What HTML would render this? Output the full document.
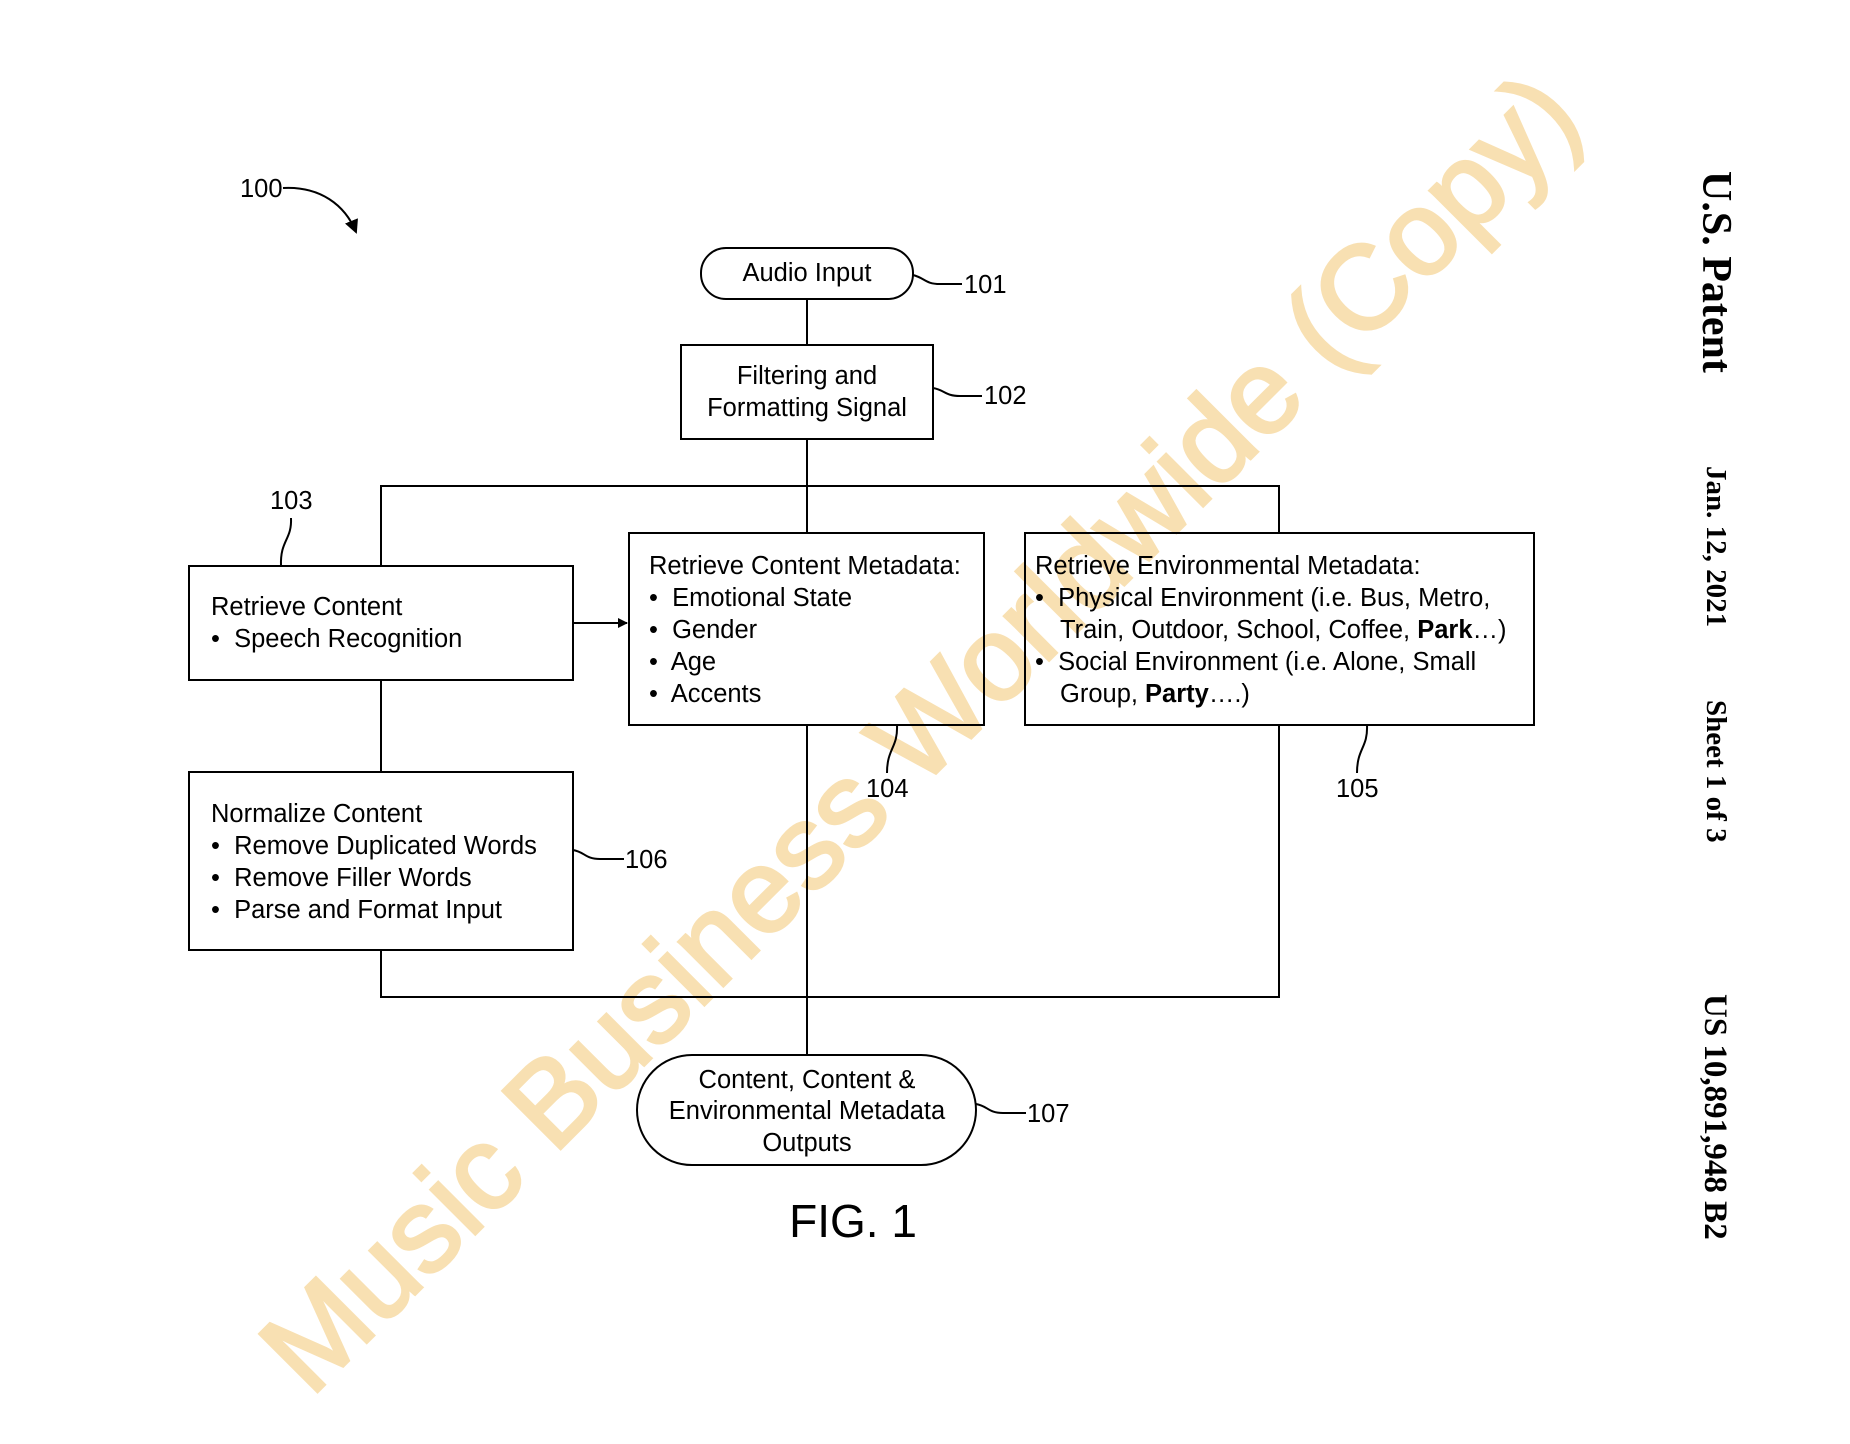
<!DOCTYPE html>
<html><head><meta charset="utf-8"><style>
html,body{margin:0;padding:0;background:#fff;width:1850px;height:1444px;overflow:hidden;}
svg{display:block;}
text{font-family:"Liberation Sans",sans-serif;fill:#000;}
.t{font-size:25.5px;}
.s{font-family:"Liberation Serif",serif;font-weight:bold;}
</style></head><body>
<svg width="1850" height="1444" viewBox="0 0 1850 1444" xmlns="http://www.w3.org/2000/svg" style="overflow:hidden">
<defs><marker id="ah" markerWidth="10" markerHeight="10" refX="9" refY="5" orient="auto" markerUnits="userSpaceOnUse"><path d="M0,0 L10,5 L0,10 z" fill="#000"/></marker>
<marker id="ah2" markerWidth="14" markerHeight="14" refX="12" refY="7" orient="auto" markerUnits="userSpaceOnUse"><path d="M0,0 L14,7 L0,14 z" fill="#000"/></marker></defs>

<text x="922" y="772" transform="rotate(-45 922 735)" text-anchor="middle" style="font-size:119px;fill:#f7d9a0;stroke:#f7d9a0;stroke-width:3;opacity:0.8">Music Business Worldwide (Copy)</text>

<g fill="none" stroke="#000" stroke-width="2">
<path d="M283,188 C320,186 345,205 356,232" marker-end="url(#ah2)"/>
<rect x="701" y="248" width="212" height="51" rx="25"/>
<path d="M913,275 C925,278 925,284 940,284 L962,284"/>
<line x1="807" y1="299" x2="807" y2="345"/>
<rect x="681" y="345" width="252" height="94"/>
<path d="M933,388 C945,390 945,396 960,396 L982,396"/>
<line x1="807" y1="439" x2="807" y2="533"/>
<polyline points="381,566 381,486 1279,486 1279,533"/>
<rect x="189" y="566" width="384" height="114"/>
<line x1="573" y1="623" x2="627" y2="623" marker-end="url(#ah)"/>
<rect x="629" y="533" width="355" height="192"/>
<rect x="1025" y="533" width="509" height="192"/>
<path d="M291,518 C292,540 280,540 281,566"/>
<path d="M897,725 C898,748 887,748 887,773"/>
<path d="M1367,725 C1368,748 1357,748 1357,773"/>
<line x1="381" y1="680" x2="381" y2="772"/>
<rect x="189" y="772" width="384" height="178"/>
<path d="M573,850 C585,852 585,859 600,859 L624,859"/>
<polyline points="381,950 381,997 1279,997 1279,725"/>
<line x1="807" y1="725" x2="807" y2="1055"/>
<rect x="637" y="1055" width="339" height="110" rx="55"/>
<path d="M976,1104 C988,1106 988,1113 1003,1113 L1026,1113"/>
</g>

<text x="240" y="197" class="t">100</text>
<text x="807" y="281" class="t" text-anchor="middle">Audio Input</text>
<text x="964" y="293" class="t">101</text>
<text x="807" y="384" class="t" text-anchor="middle">Filtering and</text>
<text x="807" y="416" class="t" text-anchor="middle">Formatting Signal</text>
<text x="984" y="404" class="t">102</text>
<text x="270" y="509" class="t">103</text>
<text x="211" y="615" class="t">Retrieve Content</text>
<text x="211" y="647" class="t">•&#160; Speech Recognition</text>
<text x="649" y="574" class="t">Retrieve Content Metadata:</text>
<text x="649" y="606" class="t">•&#160; Emotional State</text>
<text x="649" y="638" class="t">•&#160; Gender</text>
<text x="649" y="670" class="t">•&#160; Age</text>
<text x="649" y="702" class="t">•&#160; Accents</text>
<text x="1035" y="574" class="t">Retrieve Environmental Metadata:</text>
<text x="1035" y="606" class="t">•&#160; Physical Environment (i.e. Bus, Metro,</text>
<text x="1060" y="638" class="t">Train, Outdoor, School, Coffee, <tspan font-weight="bold">Park</tspan>…)</text>
<text x="1035" y="670" class="t">•&#160; Social Environment (i.e. Alone, Small</text>
<text x="1060" y="702" class="t">Group, <tspan font-weight="bold">Party</tspan>….)</text>
<text x="866" y="797" class="t">104</text>
<text x="1336" y="797" class="t">105</text>
<text x="211" y="822" class="t">Normalize Content</text>
<text x="211" y="854" class="t">•&#160; Remove Duplicated Words</text>
<text x="211" y="886" class="t">•&#160; Remove Filler Words</text>
<text x="211" y="918" class="t">•&#160; Parse and Format Input</text>
<text x="625" y="868" class="t">106</text>
<text x="807" y="1088" class="t" text-anchor="middle">Content, Content &amp;</text>
<text x="807" y="1119" class="t" text-anchor="middle">Environmental Metadata</text>
<text x="807" y="1151" class="t" text-anchor="middle">Outputs</text>
<text x="1027" y="1122" class="t">107</text>
<text x="853" y="1237" text-anchor="middle" style="font-size:46px">FIG. 1</text>

<g transform="translate(1717,0)">
<text class="s" transform="translate(0,171) rotate(90)" x="0" y="0" dy="14" style="font-size:42px">U.S. Patent</text>
<text class="s" transform="translate(0,466) rotate(90)" x="0" y="0" dy="10" style="font-size:29px">Jan. 12, 2021</text>
<text class="s" transform="translate(0,700) rotate(90)" x="0" y="0" dy="10" style="font-size:29px">Sheet 1 of 3</text>
<text class="s" transform="translate(0,994) rotate(90)" x="0" y="0" dy="12" style="font-size:33px">US 10,891,948 B2</text>
</g>
</svg>
</body></html>
